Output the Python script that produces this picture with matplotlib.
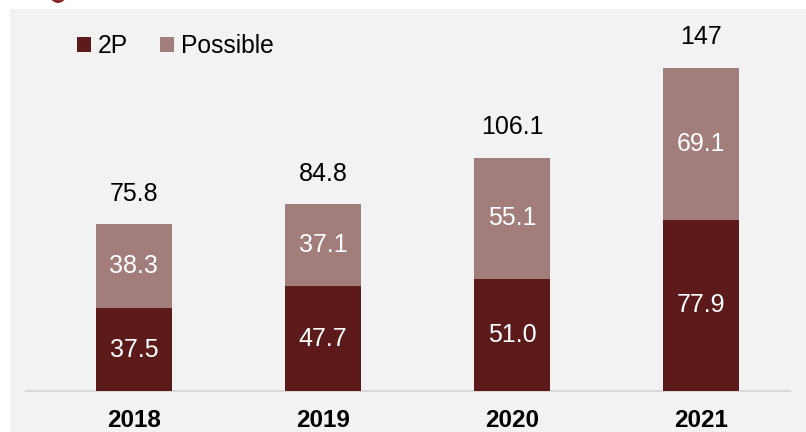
import matplotlib
matplotlib.use("Agg")
import matplotlib.pyplot as plt
from matplotlib.patches import Rectangle, Ellipse, Patch

# data
years = ["2018", "2019", "2020", "2021"]
proved_probable = [37.5, 47.7, 51.0, 77.9]
possible = [38.3, 37.1, 55.1, 69.1]
totals = ["75.8", "84.8", "106.1", "147"]

dark = "#5c1a1b"
light = "#a17d7b"

plt.rcParams['font.family'] = ['Liberation Sans', 'DejaVu Sans']

fig = plt.figure(figsize=(8.06, 4.32), dpi=100)
fig.patch.set_facecolor("white")

# grey panel + logo edge
fig.patches.append(Rectangle((10 / 806, 0), 1, (432 - 9) / 432, transform=fig.transFigure,
                             facecolor="#f2f2f2", edgecolor="none", zorder=-5))
fig.patches.append(Ellipse((58 / 806, 1 + 20 / 432), 26 / 806, 46 / 432, transform=fig.transFigure,
                           facecolor="#8b2a2a", edgecolor="none", zorder=-4))

ax = fig.add_axes([26 / 806, (432 - 391) / 432, 764 / 806, (391 - 9) / 432])
ax.set_facecolor("none")

x = range(len(years))
w = 0.40
ax.bar(x, proved_probable, width=w, color=dark, label="2P", zorder=3)
ax.bar(x, possible, width=w, bottom=proved_probable, color=light, label="Possible", zorder=3)

for i in x:
    ax.text(i, proved_probable[i] / 2, f"{proved_probable[i]:.1f}", ha="center", va="center",
            color="white", fontsize=18)
    ax.text(i, proved_probable[i] + possible[i] / 2, f"{possible[i]:.1f}", ha="center", va="center",
            color="white", fontsize=18)
    ax.annotate(totals[i], (i, proved_probable[i] + possible[i]), xytext=(0, 22),
                textcoords="offset points", ha="center", va="center", fontsize=18, color="black")

ax.set_xlim(-0.571, 3.471)
ax.set_ylim(0, 173.6)
ax.set_yticks([])
ax.set_xticks(list(x))
ax.set_xticklabels(years, fontsize=17.5, fontweight="bold")
ax.tick_params(axis="x", length=0, pad=13)
for s in ["top", "right", "left"]:
    ax.spines[s].set_visible(False)
ax.spines["bottom"].set_color("#d9d9d9")
ax.spines["bottom"].set_linewidth(1.5)

handles = [Patch(facecolor=dark, label="2P"), Patch(facecolor=light, label="Possible")]
ax.legend(handles=handles, loc="upper left", bbox_to_anchor=(77 / 806, 1 - 34 / 432),
          bbox_transform=fig.transFigure, ncol=2, frameon=False, fontsize=17.7,
          handlelength=0.55, handleheight=0.55, handletextpad=0.3, columnspacing=1.3,
          borderaxespad=0, borderpad=0)

fig.savefig("out.png", dpi=100)
